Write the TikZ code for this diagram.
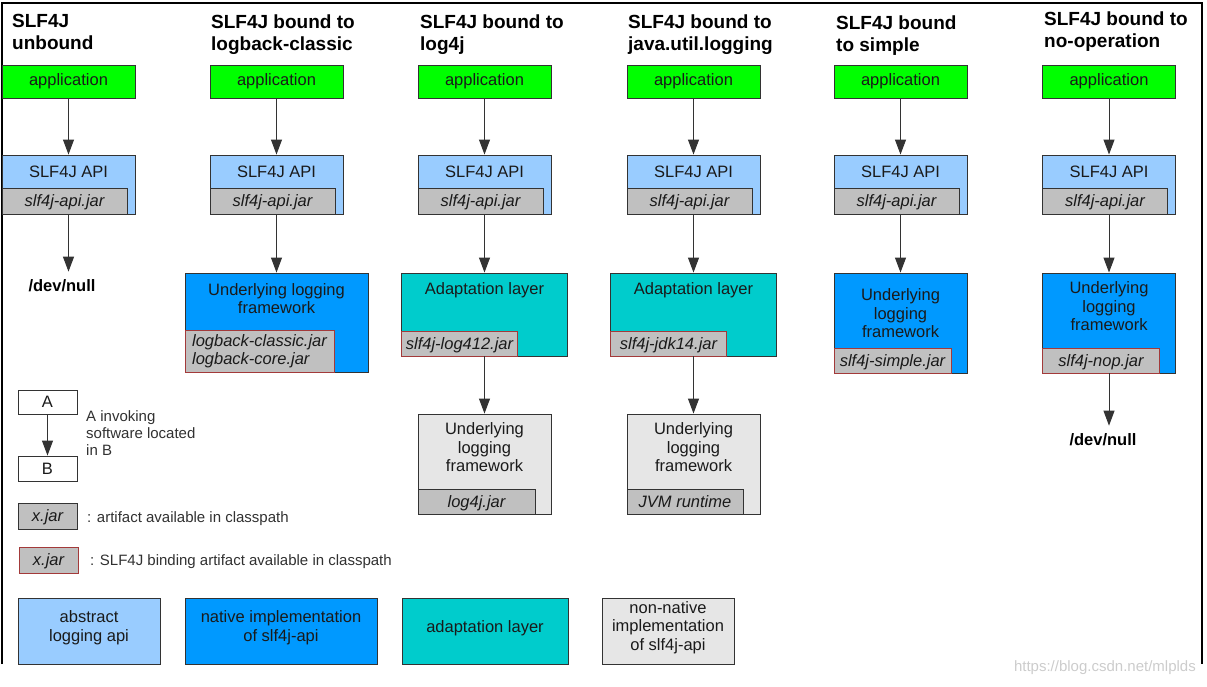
\documentclass[tikz,border=0pt]{standalone}
\usepackage{fontspec}
\setmainfont{Liberation Sans}
\usetikzlibrary{arrows.meta,positioning,calc}
\definecolor{appgreen}{HTML}{00FF00}
\definecolor{apiblue}{HTML}{99CCFF}
\definecolor{nativeblue}{HTML}{0099FF}
\definecolor{adaptteal}{HTML}{00CCCC}
\definecolor{nonnativegray}{HTML}{E6E6E6}
\definecolor{jargray}{HTML}{C0C0C0}
\definecolor{bindred}{HTML}{A33A3A}
\definecolor{edgegray}{HTML}{333333}
\definecolor{inkdark}{HTML}{1A1A1A}

\begin{document}
\begin{tikzpicture}[x = 1pt, y = -1pt,
  layerbox/.style = {draw = edgegray, line width = 0.9pt, inner sep = 0pt, text = inkdark, font = \fontsize{16.5}{18.5}\selectfont},
  appbox/.style = {layerbox, fill = appgreen, minimum width = 133pt, minimum height = 33pt},
  apibox/.style = {layerbox, fill = apiblue, minimum width = 133pt, minimum height = 59pt},
  jarbox/.style = {layerbox, fill = jargray, minimum height = 26pt, font = \fontsize{16.5}{18.5}\selectfont\itshape},
  onejar/.style = {jarbox, text height = 15pt, text depth = 4pt},
  bindbox/.style = {onejar, draw = bindred},
  boxtext/.style = {anchor = center, align = center, inner sep = 0pt, text = inkdark, font = \fontsize{16.5}{18.5}\selectfont},
  titletext/.style = {anchor = north west, align = left, inner sep = 0pt, font = \fontsize{19}{22}\selectfont\bfseries},
  nulltext/.style = {inner sep = 8pt, font = \fontsize{16.5}{19}\selectfont\bfseries},
  legendtext/.style = {inner sep = 0pt, text = inkdark!90, font = \fontsize{15}{17}\selectfont},
  arr/.style = {draw = edgegray, line width = 1pt, -{Triangle[width = 11pt, length = 15pt]}}]
\useasboundingbox (0,0) rectangle (1207,687);
% frame
\path[draw, line width = 1.4pt](2,664)to(2,3)to(1202,3)to(1202,664);
% titles
\node[titletext] (title1) at (12,14) {SLF4J\\unbound};
\node[titletext] (title2) at (211,15) {SLF4J bound to\\logback-classic};
\node[titletext] (title3) at (420,15) {SLF4J bound to\\log4j};
\node[titletext] (title4) at (628,15) {SLF4J bound to\\java.util.logging};
\node[titletext] (title5) at (836,16) {SLF4J bound\\to simple};
\node[titletext] (title6) at (1044,12) {SLF4J bound to\\no-operation};
% application and api in every column
\foreach \c/\x in {1/68.5, 2/276.5, 3/484.5, 4/693.5, 5/900.5, 6/1109}{
  \node[appbox] (app\c) at (\x,81.5) {application};
  \node[apibox, label = {[boxtext, yshift = -17pt]north:SLF4J API}] (api\c) at (\x,184.5) {};
  \node[onejar, minimum width = 125pt, anchor = south west] (apijar\c) at (api\c.south west) {slf4j-api.jar};
  \draw[arr] (app\c) -- (api\c);
}
% unbound
\node[nulltext] (null1) at (62,286) {/dev/null};
\draw[arr] (api1.south) -- (api1.south |- null1.north);
% logback-classic
\node[layerbox, fill = nativeblue, minimum width = 183pt, minimum height = 99pt,
  label = {[boxtext, yshift = -26pt]north:Underlying logging\\framework}] (fw2) at (276.5,322.5) {};
\node[jarbox, draw = bindred, minimum width = 149pt, minimum height = 42pt, anchor = south west, align = left] (bind2) at (fw2.south west) {logback-classic.jar\\logback-core.jar};
\draw[arr] (api2) -- (fw2);
% log4j
\node[layerbox, fill = adaptteal, minimum width = 166pt, minimum height = 83pt,
  label = {[boxtext, yshift = -18pt]north:Adaptation layer}] (adapt3) at (484.5,314.5) {};
\node[bindbox, minimum width = 116pt, minimum height = 25pt, anchor = south west] (bind3) at (adapt3.south west) {slf4j-log412.jar};
\node[layerbox, fill = nonnativegray, minimum width = 133pt, minimum height = 100pt,
  label = {[boxtext, yshift = -34pt]north:Underlying\\logging\\framework}] (fw3) at (484.5,464) {};
\node[onejar, minimum width = 117pt, minimum height = 25pt, anchor = south west] (lib3) at (fw3.south west) {log4j.jar};
\draw[arr] (api3) -- (adapt3);
\draw[arr] (adapt3) -- (fw3);
% java.util.logging
\node[layerbox, fill = adaptteal, minimum width = 166pt, minimum height = 83pt,
  label = {[boxtext, yshift = -18pt]north:Adaptation layer}] (adapt4) at (693.5,314.5) {};
\node[bindbox, minimum width = 116pt, minimum height = 25pt, anchor = south west] (bind4) at (adapt4.south west) {slf4j-jdk14.jar};
\node[layerbox, fill = nonnativegray, minimum width = 133pt, minimum height = 100pt,
  label = {[boxtext, yshift = -34pt]north:Underlying\\logging\\framework}] (fw4) at (693.5,464) {};
\node[onejar, minimum width = 116pt, minimum height = 25pt, anchor = south west] (lib4) at (fw4.south west) {JVM runtime};
\draw[arr] (api4) -- (adapt4);
\draw[arr] (adapt4) -- (fw4);
% simple
\node[layerbox, fill = nativeblue, minimum width = 133pt, minimum height = 100pt,
  label = {[boxtext, yshift = -41pt]north:Underlying\\logging\\framework}] (fw5) at (900.5,323) {};
\node[bindbox, minimum width = 117pt, minimum height = 25pt, anchor = south west] (bind5) at (fw5.south west) {slf4j-simple.jar};
\draw[arr] (api5) -- (fw5);
% no-operation
\node[layerbox, fill = nativeblue, minimum width = 133pt, minimum height = 100pt,
  label = {[boxtext, yshift = -34pt]north:Underlying\\logging\\framework}] (fw6) at (1109,323) {};
\node[bindbox, minimum width = 117pt, minimum height = 25pt, anchor = south west] (bind6) at (fw6.south west) {slf4j-nop.jar};
\node[nulltext] (null6) at (1103,440) {/dev/null};
\draw[arr] (api6) -- (fw6);
\draw[arr] (fw6.south) -- (fw6.south |- null6.north);
% legend
\node[layerbox, fill = white, minimum width = 59pt, minimum height = 24pt] (keyA) at (47.5,402) {A};
\node[layerbox, fill = white, minimum width = 59pt, minimum height = 25pt] (keyB) at (47.5,468.5) {B};
\draw[arr] (keyA) -- (keyB);
\node[legendtext, anchor = north west, align = left] (keyinvoke) at (86,410) {A invoking\\software located\\in B};
\node[onejar, minimum width = 59pt] (keyjar) at (47.5,516) {x.jar};
\node[legendtext, anchor = base west] (keyjartext) at (87,522) {: artifact available in classpath};
\node[bindbox, minimum width = 59pt] (keybind) at (48.5,560) {x.jar};
\node[legendtext, anchor = base west] (keybindtext) at (90,565) {: SLF4J binding artifact available in classpath};
% colour key
\node[layerbox, fill = apiblue, minimum width = 142pt, minimum height = 66pt,
  label = {[boxtext, yshift = -30pt]north:abstract\\logging api}] (swabstract) at (89,631) {};
\node[layerbox, fill = nativeblue, minimum width = 192pt, minimum height = 66pt,
  label = {[boxtext, yshift = -30pt]north:native implementation\\of slf4j-api}] (swnative) at (281,631) {};
\node[layerbox, fill = adaptteal, minimum width = 166pt, minimum height = 66pt,
  label = {[boxtext, yshift = -31pt]north:adaptation layer}] (swadapt) at (485,631) {};
\node[layerbox, fill = nonnativegray, minimum width = 132pt, minimum height = 66pt,
  label = {[boxtext, yshift = -30pt]north:non-native\\implementation\\of slf4j-api}] (swnonnative) at (668,631) {};
% watermark
\node[anchor = east, inner sep = 0pt, text = gray!40, font = \fontsize{15}{17}\selectfont] (watermark) at (1196,668) {https://blog.csdn.net/mlplds};
\end{tikzpicture}
\end{document}
